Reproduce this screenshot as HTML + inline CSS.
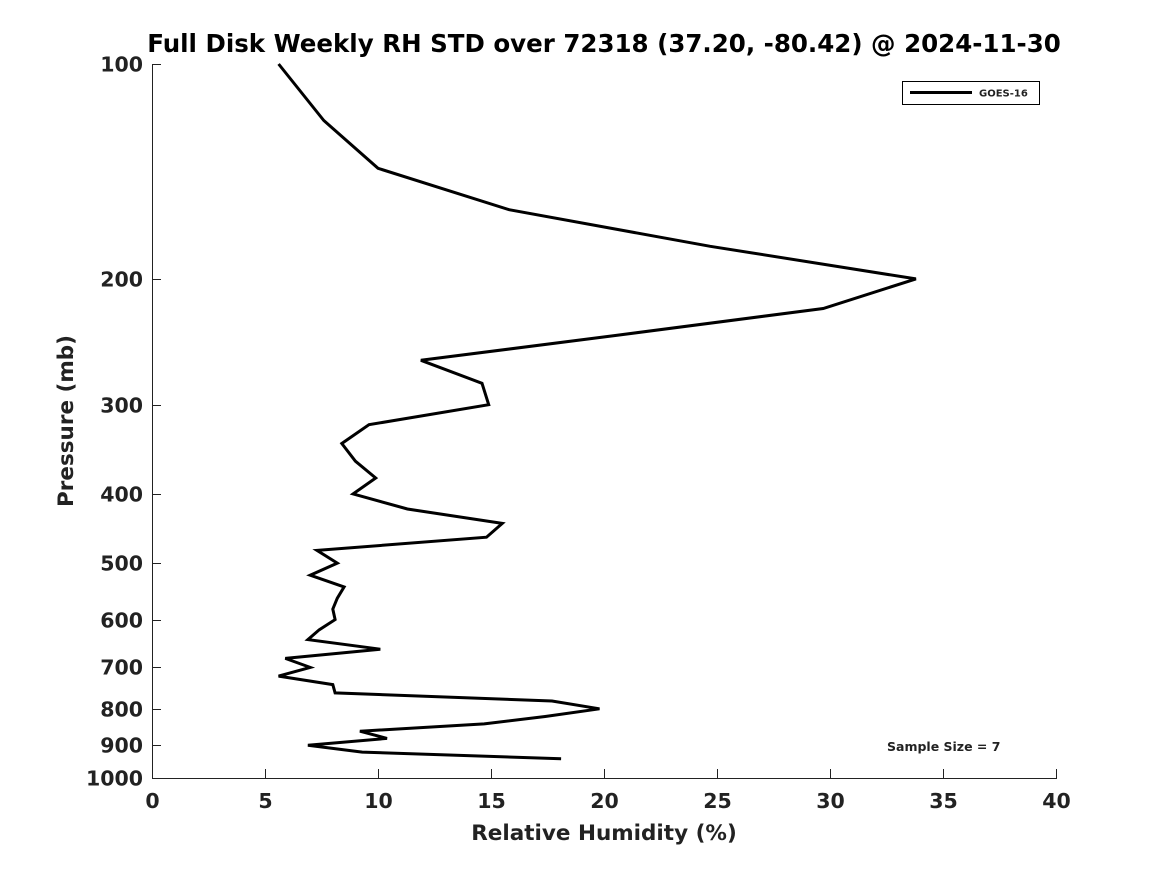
<!DOCTYPE html>
<html><head><meta charset="utf-8"><style>
body{margin:0;background:#fff;}
svg text{font-family:"DejaVu Sans","Liberation Sans",sans-serif;font-weight:bold;fill:#222;}
</style></head><body>
<svg width="1167" height="875" viewBox="0 0 1167 875">
<rect width="1167" height="875" fill="#fff"/>
<g id="axes"></g>
<g id="plot"></g>
<text x="604" y="52" text-anchor="middle" font-size="24.5" fill="#000" style="fill:#000">Full Disk Weekly RH STD over 72318 (37.20, -80.42) @ 2024-11-30</text>
<text x="604" y="840" text-anchor="middle" font-size="21.5">Relative Humidity (%)</text>
<text transform="translate(73,421) rotate(-90)" text-anchor="middle" font-size="21.5">Pressure (mb)</text>
<g>
<rect x="902.5" y="81.5" width="137" height="23" fill="#fff" stroke="#000" stroke-width="1"/>
<line x1="910" y1="92.5" x2="972" y2="92.5" stroke="#000" stroke-width="3"/>
<text x="979" y="96.5" font-size="10">GOES-16</text>
</g>
<text x="887" y="751" font-size="12.5">Sample Size = 7</text>
</svg>
<script>
const pressures=[100,120,140,160,180,200,220,240,260,280,300,320,340,360,380,400,420,440,460,480,500,520,540,560,580,600,620,640,660,680,700,720,740,760,780,800,820,840,860,880,900,920,940];
const rhStd=[5.6,7.6,10.0,15.8,24.7,33.8,29.7,20.5,11.9,14.6,14.9,9.6,8.4,9.0,9.9,8.9,11.3,15.5,14.8,7.3,8.2,7.0,8.5,8.2,8.0,8.1,7.4,6.9,10.1,5.9,7.0,5.6,8.0,8.1,17.7,19.8,17.4,14.7,9.2,10.4,6.9,9.3,18.1];
const xTicks=[0,5,10,15,20,25,30,35,40];
const yTicks=[100,200,300,400,500,600,700,800,900,1000];
const NS="http://www.w3.org/2000/svg";
const X0=152,X1=1056,Y0=64,Y1=778;
function xs(v){return X0+(v-0)/(40-0)*(X1-X0);}
function ys(p){return Y0+(Math.log10(p)-2)*(Y1-Y0);}
const axes=document.getElementById('axes');
function mk(tag,attrs,parent){const e=document.createElementNS(NS,tag);for(const k in attrs)e.setAttribute(k,attrs[k]);parent.appendChild(e);return e;}
const xa=mk('line',{x1:X0,y1:Y1+0.5,x2:X1+1,y2:Y1+0.5,stroke:'#222','stroke-width':1},axes);


const ya=mk('line',{x1:X0+0.5,y1:Y0,x2:X0+0.5,y2:Y1,stroke:'#222','stroke-width':1},axes);


xTicks.forEach(t=>{
 const x=Math.round(xs(t))+0.5;
 const l=mk('line',{x1:x,y1:Y1,x2:x,y2:Y1-9,stroke:'#222'},axes);
 
 
 const tx=mk('text',{x:x,y:Y1+30,'text-anchor':'middle','font-size':20.5},axes);
 tx.textContent=t;
 
 
});
yTicks.forEach(t=>{
 const y=Math.round(ys(t))+0.5;
 const l=mk('line',{x1:X0,y1:y,x2:X0+9,y2:y,stroke:'#222'},axes);
 
 
 const tx=mk('text',{x:X0-9,y:y+7,'text-anchor':'end','font-size':20.5},axes);
 tx.textContent=t;
 
 
});
const pts=pressures.map((p,i)=>xs(rhStd[i]).toFixed(1)+','+ys(p).toFixed(1)).join(' ');
const line=mk('polyline',{points:pts,fill:'none',stroke:'#000','stroke-width':3,'stroke-linejoin':'miter'},document.getElementById('plot'));


</script>
</body></html>
